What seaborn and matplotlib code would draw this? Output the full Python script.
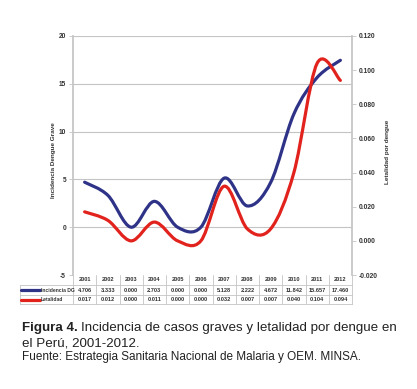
import numpy as np
import seaborn as sns
import matplotlib.pyplot as plt
from matplotlib.path import Path
from matplotlib.patches import PathPatch
from matplotlib.lines import Line2D
import matplotlib.transforms as mtransforms

# ----------------------------
# Datos (tabla del gráfico)
# ----------------------------
years = ["2001", "2002", "2003", "2004", "2005", "2006",
         "2007", "2008", "2009", "2010", "2011", "2012"]
incidencia = [4.706, 3.333, 0.000, 2.703, 0.000, 0.000,
              5.128, 2.222, 4.672, 11.842, 15.657, 17.460]
letalidad = [0.017, 0.012, 0.000, 0.011, 0.000, 0.000,
             0.032, 0.007, 0.007, 0.040, 0.104, 0.094]

left_ticks = [-5, 0, 5, 10, 15, 20]
right_ticks = [-0.020, 0.000, 0.020, 0.040, 0.060, 0.080, 0.100, 0.120]

BLUE = "#2f3388"
RED = "#e2231d"
GRID = "#c4c4c4"
TXT = "#333333"
W, H = 417, 389

sns.set_theme(style="white")
plt.rcParams["font.family"] = ["Liberation Sans", "DejaVu Sans"]


def smooth_path(xs, ys):
    # curva suavizada tipo Excel (Bezier con tangentes de Catmull-Rom)
    pts = np.column_stack([xs, ys]).astype(float)
    ext = np.vstack([pts[0], pts, pts[-1]])
    verts = [tuple(pts[0])]
    codes = [Path.MOVETO]
    for i in range(len(pts) - 1):
        p0, p1, p2, p3 = ext[i], ext[i + 1], ext[i + 2], ext[i + 3]
        c1 = p1 + (p2 - p0) / 6
        c2 = p2 - (p3 - p1) / 6
        verts += [tuple(c1), tuple(c2), tuple(p2)]
        codes += [Path.CURVE4] * 3
    return Path(verts, codes)


def fx(x):
    return x / W


def fy(y):
    return 1 - y / H


fig = plt.figure(figsize=(W / 100, H / 100), dpi=100)
ax = fig.add_axes([fx(73), fy(275), fx(352) - fx(73), fy(36) - fy(275)])
ax2 = ax.twinx()

xs = np.arange(len(years))
ax.add_patch(PathPatch(smooth_path(xs, incidencia), fill=False,
                       edgecolor=BLUE, lw=2.3, capstyle="round", zorder=3))
ax2.add_patch(PathPatch(smooth_path(xs, letalidad), fill=False,
                        edgecolor=RED, lw=2.3, capstyle="round", zorder=3))

ax.set_xlim(-0.5, len(years) - 0.5)
ax.set_ylim(-5, 20)
ax2.set_ylim(-0.020, 0.120)
ax.set_xticks([])
ax.set_yticks(left_ticks)
ax.set_yticklabels([str(t) for t in left_ticks])
ax2.set_yticks(right_ticks)
ax2.set_yticklabels([f"{t:.3f}" for t in right_ticks])

for t in left_ticks[1:]:
    ax.axhline(t, color=GRID, lw=0.8, zorder=1)

for a in (ax, ax2):
    for s in a.spines.values():
        s.set_visible(False)
ax.spines["left"].set_visible(True)
ax.spines["left"].set_color(GRID)
ax2.spines["right"].set_visible(True)
ax2.spines["right"].set_color(GRID)

ax.tick_params(axis="y", length=3, width=0.6, color=GRID, pad=2, labelsize=4.8)
ax2.tick_params(axis="y", length=3, width=0.6, color=GRID, pad=2, labelsize=4.8)
for lab in ax.get_yticklabels() + ax2.get_yticklabels():
    lab.set_fontweight("bold")
    lab.set_color(TXT)

fig.text(fx(54), fy(160), "Incidencia Dengue Grave", rotation=90,
         ha="center", va="center", fontsize=4.6, fontweight="bold", color=TXT)
fig.text(fx(388), fy(152), "Letalidad por dengue", rotation=90,
         ha="center", va="center", fontsize=4.6, fontweight="bold", color=TXT)

# ----------------------------
# Tabla de datos bajo el gráfico
# ----------------------------
bt = mtransforms.blended_transform_factory(ax.transData, fig.transFigure)
row_y = [279.5, 290, 299.5]
edges_y = [275, 285, 295, 304]
for i in range(len(years) + 1):
    fig.add_artist(Line2D([i - 0.5, i - 0.5], [fy(275), fy(304)],
                          transform=bt, color=GRID, lw=0.6))
for y in edges_y[1:]:
    fig.add_artist(Line2D([fx(20), fx(352)], [fy(y), fy(y)],
                          transform=fig.transFigure, color=GRID, lw=0.6))
fig.add_artist(Line2D([fx(20), fx(20)], [fy(285), fy(304)],
                      transform=fig.transFigure, color=GRID, lw=0.6))

cell_font = dict(fontsize=4.1, fontweight="bold", color=TXT,
                 ha="center", va="center")
for i, yr in enumerate(years):
    fig.text(i, fy(row_y[0]), yr, transform=bt, **cell_font)
    fig.text(i, fy(row_y[1]), f"{incidencia[i]:.3f}", transform=bt, **cell_font)
    fig.text(i, fy(row_y[2]), f"{letalidad[i]:.3f}", transform=bt, **cell_font)

for y, color, label in [(row_y[1], BLUE, "Incidencia DG"), (row_y[2], RED, "Letalidad")]:
    fig.add_artist(Line2D([fx(21), fx(40)], [fy(y), fy(y)],
                          transform=fig.transFigure, color=color, lw=2.3))
    fig.text(fx(41), fy(y), label, ha="left", va="center", fontsize=3.6,
             fontweight="bold", color=TXT)

# ----------------------------
# Leyenda de la figura
# ----------------------------
t1 = fig.text(fx(22), fy(328), "Figura 4.", ha="left", va="center",
              fontsize=9.6, fontweight="bold", color="#222222")
fig.canvas.draw()
bb = t1.get_window_extent()
fig.text(bb.x1 / W + fx(3), fy(328), "Incidencia de casos graves y letalidad por dengue en",
         ha="left", va="center", fontsize=9.6, color="#222222")
fig.text(fx(22), fy(343), "el Perú, 2001-2012.", ha="left", va="center",
         fontsize=9.6, color="#222222")
fig.text(fx(22), fy(357), "Fuente: Estrategia Sanitaria Nacional de Malaria y OEM. MINSA.",
         ha="left", va="center", fontsize=8.5, color="#222222")

fig.savefig("out.png", dpi=100)
